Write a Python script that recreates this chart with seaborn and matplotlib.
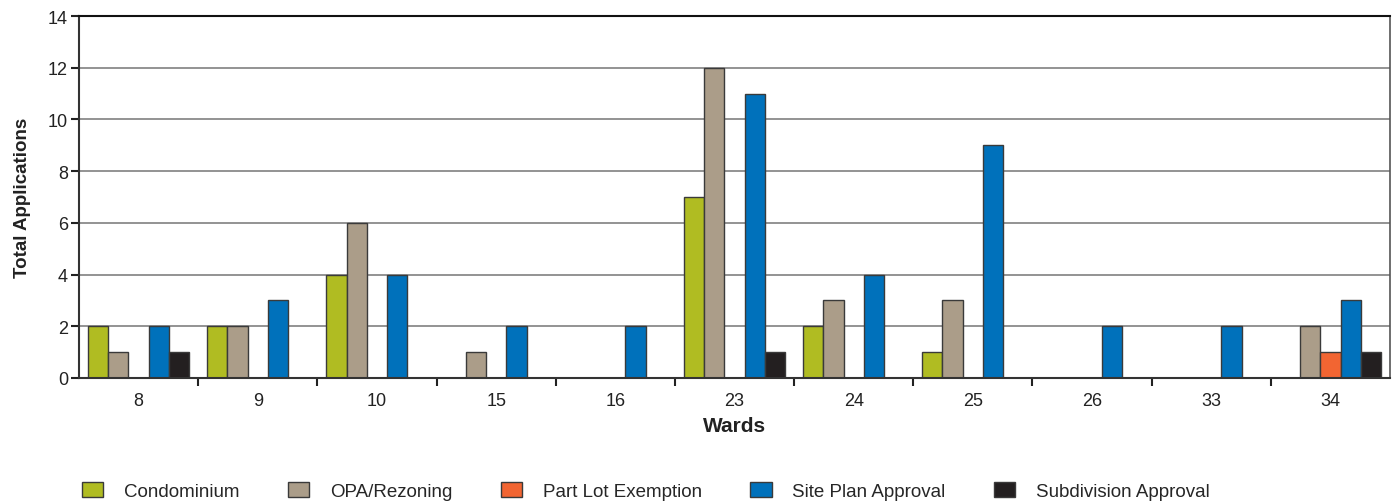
import pandas as pd
import matplotlib.pyplot as plt
import seaborn as sns
import numpy as np
from matplotlib.patches import Patch
from matplotlib.ticker import FixedLocator

wards = ['8', '9', '10', '15', '16', '23', '24', '25', '26', '33', '34']
types = ['Condominium', 'OPA/Rezoning', 'Part Lot Exemption', 'Site Plan Approval', 'Subdivision Approval']
condominium = [2, 2, 4, 0, 0, 7, 2, 1, 0, 0, 0]
opa_rezoning = [1, 2, 6, 1, 0, 12, 3, 3, 0, 0, 2]
part_lot = [0, 0, 0, 0, 0, 0, 0, 0, 0, 0, 1]
site_plan = [2, 3, 4, 2, 2, 11, 4, 9, 2, 2, 3]
subdivision = [1, 0, 0, 0, 0, 1, 0, 0, 0, 0, 1]
colors = ['#b0bc22', '#ab9d89', '#f26532', '#0071bb', '#231f20']

series = [condominium, opa_rezoning, part_lot, site_plan, subdivision]
rows = []
for t, vals in zip(types, series):
    for w, v in zip(wards, vals):
        rows.append({'ward': w, 'type': t, 'count': v})
df = pd.DataFrame(rows)

sns.set_style('white')
plt.rcParams['font.family'] = ['Liberation Sans', 'DejaVu Sans']

fig = plt.figure(figsize=(13.95, 5.02), dpi=100)
ax = fig.add_axes([79 / 1395, 1 - 379 / 502, (1390 - 79) / 1395, (379 - 17) / 502])

sns.barplot(data=df, x='ward', y='count', hue='type', order=wards, hue_order=types,
            palette=colors, width=0.85, edgecolor='#3a3a3a', linewidth=1.0,
            saturation=1, legend=False, ax=ax)

ax.set_ylim(0, 14)
ax.set_xlim(-0.5, len(wards) - 0.5)
ax.set_yticks(np.arange(0, 15, 2))
ax.yaxis.grid(True, color='#808080', linewidth=1.2)
ax.set_axisbelow(True)

# category labels centred, ticks between the groups
ax.tick_params(bottom=True, left=True)
ax.tick_params(axis='x', which='major', length=0, labelsize=13, colors='#222222', pad=10)
ax.xaxis.set_minor_locator(FixedLocator(np.arange(0.5, len(wards) - 1, 1)))
ax.tick_params(axis='x', which='minor', bottom=True, length=6, width=1.5, direction='out', color='#222222')
ax.tick_params(axis='y', length=6, width=1.5, direction='out', labelsize=13, colors='#222222', pad=2)

ax.set_xlabel('Wards', fontsize=15, fontweight='bold', labelpad=5, color='#222222')
ax.set_ylabel('Total Applications', fontsize=13.5, fontweight='bold', labelpad=12, color='#222222')

for side in ['left', 'bottom']:
    ax.spines[side].set_color('#333333')
    ax.spines[side].set_linewidth(1.5)
ax.spines['top'].set_color('#111111')
ax.spines['top'].set_linewidth(1.5)
ax.spines['right'].set_color('#555555')
ax.spines['right'].set_linewidth(1.2)

handles = [Patch(facecolor=c, edgecolor='#3a3a3a', linewidth=1.0, label=t) for c, t in zip(colors, types)]
fig.legend(handles=handles, loc='center left', bbox_to_anchor=(65 / 1395, 10 / 502), ncol=5,
           frameon=False, fontsize=13.5, handlelength=1.15, handleheight=0.8,
           handletextpad=1.1, columnspacing=2.57)

fig.savefig('out.png', dpi=100)
